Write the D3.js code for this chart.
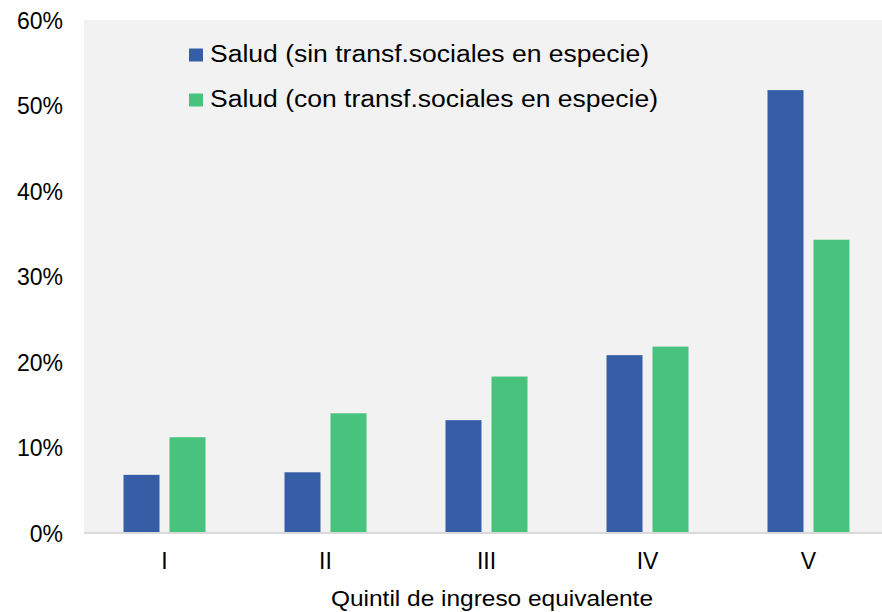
<!DOCTYPE html>
<html>
<head>
<meta charset="utf-8">
<script src="https://cdn.jsdelivr.net/npm/d3@7"></script>
<style>
  body { margin: 0; background: #fff; }
  svg text { font-family: "Liberation Sans", Arial, sans-serif; fill: #000; }
</style>
</head>
<body>
<div id="chart"></div>
<script>
// Data
const quintiles = ["I", "II", "III", "IV", "V"];
const seriesNames = ["Salud (sin transf.sociales en especie)", "Salud (con transf.sociales en especie)"];
const sinTransf = [0.068, 0.071, 0.132, 0.208, 0.518];
const conTransf = [0.112, 0.140, 0.183, 0.218, 0.343];
const yTicks = [0, 0.1, 0.2, 0.3, 0.4, 0.5, 0.6];
const colors = ["#355ea6", "#47c37d"];

const width = 882;
const height = 612;
const plot = { left: 84, right: 889, top: 20, bottom: 533 };

const svg = d3.select("#chart")
    .append("svg")
    .attr("width", width)
    .attr("height", height);

// Plot background
svg.append("rect")
    .attr("x", plot.left)
    .attr("y", plot.top)
    .attr("width", plot.right - plot.left)
    .attr("height", plot.bottom - plot.top)
    .attr("fill", "#f2f2f2");

const xScale = d3.scaleBand()
    .domain(quintiles)
    .range([plot.left, plot.right]);

// two bars of 36px with a 10px gap, centred in each band
const xInner = d3.scaleBand()
    .domain([0, 1])
    .range([xScale.bandwidth() / 2 - 41, xScale.bandwidth() / 2 + 41])
    .paddingInner(10 / 46);

const yScale = d3.scaleLinear()
    .domain([0, 0.6])
    .range([plot.bottom, plot.top]);

// Bars
const rows = quintiles.map((q, i) => ({ q, values: [sinTransf[i], conTransf[i]] }));

const groups = svg.selectAll(".barGroup")
    .data(rows)
    .enter()
    .append("g")
    .attr("class", "barGroup")
    .attr("transform", d => `translate(${xScale(d.q)}, 0)`);

groups.selectAll("rect")
    .data(d => d.values.map((v, j) => ({ v, j })))
    .enter()
    .append("rect")
    .attr("x", d => xInner(d.j))
    .attr("y", d => yScale(d.v))
    .attr("width", xInner.bandwidth())
    .attr("height", d => plot.bottom - yScale(d.v))
    .attr("fill", d => colors[d.j]);

// Y axis (labels only)
const yAxis = d3.axisLeft(yScale)
    .tickValues(yTicks)
    .tickFormat(d3.format(".0%"))
    .tickSize(0)
    .tickPadding(0);

svg.append("g")
    .attr("class", "y-axis")
    .attr("transform", `translate(63, 0)`)
    .call(yAxis)
    .call(g => g.select(".domain").remove())
    .call(g => g.selectAll("text").style("font-size", "23px").attr("dy", "0.35em"));

// X axis
const xAxis = d3.axisBottom(xScale).tickSize(0).tickPadding(0);
svg.append("g")
    .attr("class", "x-axis")
    .attr("transform", `translate(0, ${plot.bottom})`)
    .call(xAxis)
    .call(g => g.select(".domain").remove())
    .call(g => g.selectAll("text").style("font-size", "23px").attr("y", 28).attr("dy", "0.35em"));

svg.append("line")
    .attr("x1", plot.left)
    .attr("x2", plot.right)
    .attr("y1", plot.bottom)
    .attr("y2", plot.bottom)
    .attr("stroke", "#d9d9d9")
    .attr("stroke-width", 2);

// Axis title
svg.append("text")
    .attr("x", 331)
    .attr("y", 598.5)
    .attr("dy", "0.35em")
    .attr("textLength", 322)
    .attr("lengthAdjust", "spacingAndGlyphs")
    .style("font-size", "22px")
    .text("Quintil de ingreso equivalente");

// Legend
const legend = svg.append("g")
    .attr("class", "legend")
    .attr("transform", "translate(189, 0)");

const legendY = [54, 99];
const legendLen = [439, 448];
seriesNames.forEach((name, i) => {
    legend.append("rect")
        .attr("x", 0)
        .attr("y", legendY[i] - 5.5)
        .attr("width", 14)
        .attr("height", 13)
        .attr("fill", colors[i]);
    legend.append("text")
        .attr("x", 21)
        .attr("y", legendY[i])
        .attr("dy", "0.35em")
        .attr("textLength", legendLen[i])
        .attr("lengthAdjust", "spacingAndGlyphs")
        .style("font-size", "23px")
        .text(name);
});
</script>
</body>
</html>
